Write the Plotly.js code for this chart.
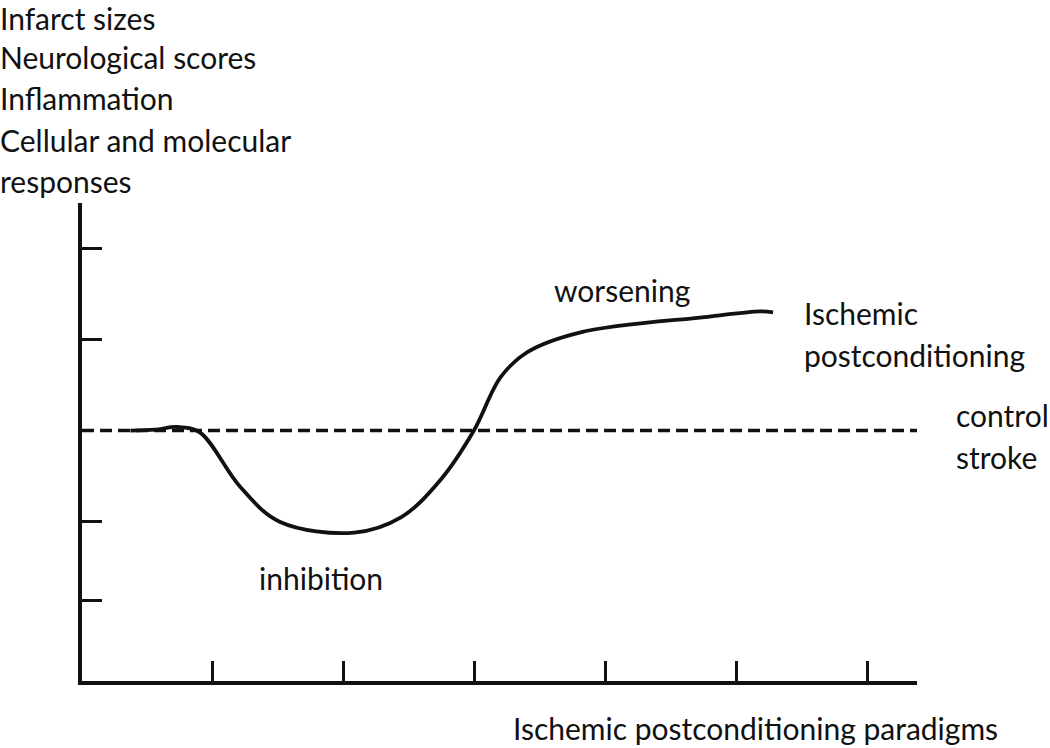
<!DOCTYPE html>
<html>
<head>
<meta charset="utf-8">
<script src="https://cdn.plot.ly/plotly-3.0.1.min.js"></script>
<style>
  html, body { margin: 0; padding: 0; background: #fff; }
  #chart { width: 1050px; height: 748px; }
</style>
</head>
<body>
<div id="chart"></div>
<script>
// Curva de postcondicionamiento (unidades relativas; 0 = ictus control)
const paradigmX = [0.37, 0.56, 0.73, 0.90, 1.21, 1.51, 2.08, 2.44, 2.74, 2.99, 3.20, 3.40, 3.81, 4.78, 5.18, 5.28];
const responseY = [0.00, 0.01, 0.04, -0.02, -0.62, -1.00, -1.12, -0.95, -0.54, -0.01, 0.59, 0.86, 1.08, 1.25, 1.31, 1.30];

// Linea de control
const controlX = [0, 6.38];
const controlY = [0, 0];

// Marcas de los ejes
const xTicks = [1, 2, 3, 4, 5, 6];
const yTicks = [-1.87, -1, 1, 2];

const yLabels = ["Infarct sizes", "Neurological scores", "Inflammation", "Cellular and molecular", "responses"];
const xLabel = "Ischemic postconditioning paradigms";

const FONT = "Lato, 'Open Sans', sans-serif";
const ink = "#111";

// pixel helpers para colocar los textos
const px = (x) => (x - 82) / 835;
const py = (y) => (681 - y) / 478;

const ann = (text, x, y) => ({
  text, x: px(x), y: py(y), xref: "paper", yref: "paper",
  xanchor: "left", yanchor: "middle", showarrow: false,
  font: { family: FONT, size: 30, color: ink },
});

const annotations = [
  ...yLabels.map((t, i) => ann(t, -2, [18, 57, 98, 140, 181][i])),
  ann("worsening", 552, 290),
  ann("Ischemic", 802, 313),
  ann("postconditioning", 802, 355),
  ann("control", 954, 415),
  ann("stroke", 954, 457),
  ann("inhibition", 257, 578),
  ann(xLabel, 511, 728),
];

Plotly.newPlot("chart", [
  {
    type: "scatter", mode: "lines",
    x: controlX, y: controlY,
    line: { color: ink, width: 3.5, dash: "12px,6px" },
    hoverinfo: "skip", showlegend: false,
  },
  {
    type: "scatter", mode: "lines",
    x: paradigmX, y: responseY,
    line: { color: ink, width: 3.8, shape: "spline", smoothing: 1 },
    hoverinfo: "skip", showlegend: false,
  },
], {
  width: 1050, height: 748,
  margin: { l: 82, r: 133, t: 203, b: 67 },
  paper_bgcolor: "#fff", plot_bgcolor: "#fff",
  showlegend: false,
  xaxis: {
    range: [0, 6.38], showgrid: false, zeroline: false,
    showline: true, linecolor: ink, linewidth: 4,
    ticks: "inside", ticklen: 20, tickwidth: 3, tickcolor: ink,
    tickvals: xTicks, showticklabels: false, fixedrange: true,
  },
  yaxis: {
    range: [-2.75, 2.5], showgrid: false, zeroline: false,
    showline: true, linecolor: ink, linewidth: 4,
    ticks: "inside", ticklen: 20, tickwidth: 3, tickcolor: ink,
    tickvals: yTicks, showticklabels: false, fixedrange: true,
  },
  annotations,
}, { displayModeBar: false, staticPlot: true });
</script>
</body>
</html>
